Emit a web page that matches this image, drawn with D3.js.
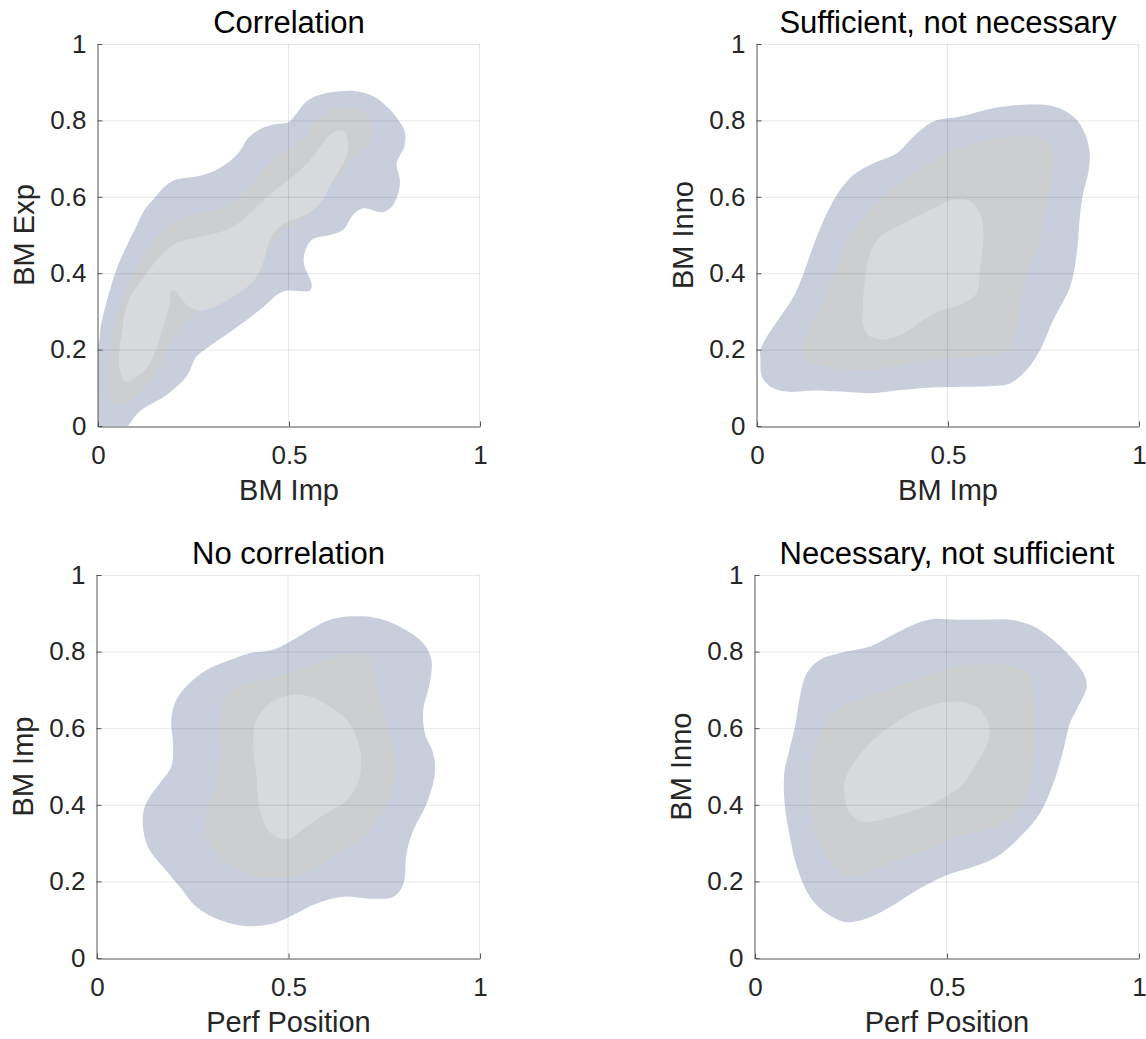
<!DOCTYPE html>
<html>
<head>
<meta charset="utf-8">
<script src="https://cdn.jsdelivr.net/npm/d3@7"></script>
<style>
  body { margin: 0; background: #fff; }
  svg { display: block; font-family: "Liberation Sans", Arial, Helvetica, sans-serif; }
</style>
</head>
<body>
<div id="chart"></div>
<script>
// panel texts
const panelTitles = ["Correlation", "Sufficient, not necessary", "No correlation", "Necessary, not sufficient"];
const xLabels = ["BM Imp", "BM Imp", "Perf Position", "Perf Position"];
const yLabels = ["BM Exp", "BM Inno", "BM Imp", "BM Inno"];
const xTicks = [0, 0.5, 1];
const yTicks = [0, 0.2, 0.4, 0.6, 0.8, 1];

// contour outlines, [x, y] in data units
const corrOuter = [[0.048,-0.03],[0.109,0.038],[0.179,0.081],[0.231,0.129],[0.258,0.182],[0.284,0.203],[0.354,0.252],[0.424,0.304],[0.485,0.352],[0.555,0.355],[0.559,0.374],[0.541,0.417],[0.539,0.444],[0.559,0.487],[0.607,0.500],[0.642,0.514],[0.668,0.553],[0.694,0.570],[0.747,0.560],[0.773,0.579],[0.788,0.618],[0.790,0.645],[0.782,0.688],[0.802,0.732],[0.803,0.771],[0.786,0.802],[0.755,0.837],[0.721,0.863],[0.677,0.876],[0.633,0.876],[0.581,0.867],[0.546,0.850],[0.520,0.819],[0.498,0.795],[0.459,0.789],[0.424,0.777],[0.393,0.754],[0.371,0.719],[0.345,0.693],[0.301,0.666],[0.258,0.653],[0.205,0.645],[0.175,0.627],[0.148,0.597],[0.122,0.566],[0.096,0.514],[0.070,0.461],[0.048,0.409],[0.031,0.356],[0.017,0.304],[0.007,0.260],[0.002,0.217],[-0.01,0.19],[-0.03,-0.03]];
const corrMid = [[0.039,0.059],[0.031,0.121],[0.032,0.173],[0.039,0.243],[0.052,0.304],[0.074,0.365],[0.100,0.417],[0.127,0.461],[0.157,0.500],[0.192,0.531],[0.236,0.550],[0.288,0.562],[0.336,0.575],[0.371,0.601],[0.402,0.631],[0.432,0.671],[0.467,0.706],[0.507,0.728],[0.537,0.749],[0.563,0.789],[0.598,0.819],[0.642,0.835],[0.686,0.830],[0.712,0.806],[0.719,0.767],[0.703,0.732],[0.672,0.706],[0.642,0.671],[0.611,0.631],[0.585,0.592],[0.563,0.562],[0.528,0.535],[0.493,0.518],[0.467,0.492],[0.445,0.452],[0.428,0.409],[0.406,0.383],[0.371,0.361],[0.336,0.343],[0.301,0.326],[0.266,0.304],[0.236,0.278],[0.210,0.247],[0.188,0.208],[0.162,0.155],[0.131,0.112],[0.092,0.072],[0.061,0.058]];
const corrInner = [[0.066,0.121],[0.055,0.164],[0.057,0.208],[0.064,0.252],[0.070,0.295],[0.087,0.343],[0.118,0.387],[0.144,0.422],[0.175,0.457],[0.214,0.483],[0.262,0.494],[0.310,0.505],[0.354,0.522],[0.389,0.548],[0.424,0.582],[0.459,0.614],[0.493,0.640],[0.528,0.669],[0.559,0.701],[0.585,0.736],[0.607,0.762],[0.629,0.774],[0.646,0.769],[0.655,0.741],[0.651,0.706],[0.629,0.666],[0.607,0.627],[0.585,0.588],[0.559,0.562],[0.524,0.544],[0.489,0.531],[0.463,0.509],[0.445,0.474],[0.432,0.426],[0.410,0.383],[0.380,0.356],[0.345,0.334],[0.306,0.313],[0.266,0.302],[0.236,0.314],[0.214,0.339],[0.201,0.355],[0.190,0.352],[0.188,0.321],[0.179,0.286],[0.166,0.243],[0.148,0.190],[0.127,0.151],[0.096,0.125],[0.074,0.116]];

const sufOuter = [[0.009,0.173],[0.013,0.129],[0.035,0.103],[0.078,0.090],[0.148,0.093],[0.218,0.090],[0.305,0.086],[0.375,0.094],[0.453,0.101],[0.532,0.103],[0.619,0.105],[0.663,0.112],[0.706,0.147],[0.741,0.199],[0.776,0.278],[0.820,0.365],[0.837,0.452],[0.846,0.557],[0.854,0.610],[0.867,0.662],[0.871,0.714],[0.858,0.767],[0.828,0.810],[0.776,0.837],[0.697,0.841],[0.619,0.832],[0.532,0.810],[0.462,0.797],[0.410,0.758],[0.366,0.714],[0.305,0.688],[0.253,0.658],[0.218,0.619],[0.183,0.557],[0.153,0.487],[0.122,0.400],[0.096,0.339],[0.061,0.286],[0.026,0.234],[0.009,0.199]];
const sufMid = [[0.118,0.199],[0.122,0.177],[0.166,0.160],[0.235,0.148],[0.305,0.147],[0.375,0.160],[0.445,0.173],[0.514,0.177],[0.602,0.182],[0.654,0.199],[0.680,0.243],[0.689,0.313],[0.702,0.383],[0.737,0.470],[0.758,0.575],[0.776,0.662],[0.778,0.706],[0.763,0.745],[0.715,0.760],[0.645,0.756],[0.575,0.741],[0.506,0.719],[0.453,0.688],[0.392,0.653],[0.340,0.610],[0.288,0.557],[0.235,0.487],[0.209,0.417],[0.183,0.348],[0.148,0.278],[0.122,0.234]];
const sufInner = [[0.279,0.260],[0.296,0.234],[0.331,0.227],[0.384,0.243],[0.436,0.278],[0.488,0.304],[0.540,0.321],[0.575,0.348],[0.584,0.417],[0.593,0.496],[0.584,0.557],[0.558,0.588],[0.514,0.592],[0.453,0.566],[0.384,0.531],[0.323,0.496],[0.296,0.452],[0.283,0.383],[0.277,0.313]];

const noOuter = [[0.120,0.343],[0.133,0.290],[0.172,0.238],[0.216,0.186],[0.260,0.133],[0.321,0.099],[0.390,0.083],[0.460,0.090],[0.512,0.112],[0.573,0.142],[0.643,0.160],[0.713,0.155],[0.774,0.160],[0.800,0.194],[0.808,0.273],[0.826,0.334],[0.861,0.404],[0.882,0.482],[0.878,0.534],[0.856,0.587],[0.852,0.649],[0.869,0.718],[0.873,0.779],[0.852,0.822],[0.791,0.865],[0.730,0.888],[0.669,0.892],[0.608,0.883],[0.556,0.857],[0.512,0.831],[0.460,0.805],[0.399,0.796],[0.347,0.778],[0.286,0.752],[0.242,0.718],[0.207,0.674],[0.194,0.622],[0.199,0.552],[0.194,0.500],[0.164,0.456],[0.138,0.421],[0.122,0.386]];
const noMid = [[0.281,0.343],[0.290,0.308],[0.321,0.264],[0.373,0.229],[0.434,0.210],[0.503,0.212],[0.573,0.238],[0.643,0.282],[0.704,0.325],[0.747,0.386],[0.778,0.456],[0.782,0.517],[0.765,0.587],[0.739,0.674],[0.721,0.761],[0.699,0.787],[0.643,0.792],[0.573,0.770],[0.503,0.744],[0.434,0.726],[0.364,0.709],[0.329,0.674],[0.321,0.604],[0.321,0.517],[0.308,0.447],[0.290,0.395]];
const noInner = [[0.434,0.360],[0.446,0.334],[0.477,0.312],[0.503,0.312],[0.547,0.343],[0.599,0.378],[0.652,0.412],[0.681,0.456],[0.690,0.517],[0.677,0.578],[0.652,0.622],[0.608,0.656],[0.556,0.683],[0.503,0.687],[0.451,0.665],[0.416,0.622],[0.408,0.552],[0.416,0.482],[0.421,0.412]];

const necOuter = [[0.076,0.482],[0.078,0.395],[0.091,0.316],[0.109,0.238],[0.143,0.160],[0.187,0.116],[0.234,0.094],[0.291,0.103],[0.352,0.133],[0.421,0.177],[0.499,0.216],[0.569,0.238],[0.629,0.264],[0.690,0.316],[0.742,0.378],[0.777,0.456],[0.803,0.543],[0.820,0.613],[0.846,0.665],[0.864,0.709],[0.855,0.744],[0.829,0.779],[0.786,0.822],[0.725,0.866],[0.664,0.883],[0.595,0.883],[0.525,0.883],[0.464,0.885],[0.412,0.870],[0.352,0.840],[0.299,0.813],[0.221,0.796],[0.169,0.779],[0.135,0.744],[0.117,0.683],[0.104,0.604],[0.087,0.534]];
const necMid = [[0.143,0.430],[0.156,0.334],[0.187,0.264],[0.230,0.221],[0.273,0.214],[0.326,0.238],[0.395,0.264],[0.464,0.290],[0.525,0.316],[0.621,0.343],[0.681,0.378],[0.716,0.447],[0.729,0.552],[0.729,0.656],[0.716,0.735],[0.673,0.761],[0.603,0.768],[0.534,0.763],[0.464,0.744],[0.395,0.718],[0.326,0.691],[0.256,0.670],[0.213,0.648],[0.178,0.604],[0.152,0.534]];
const necInner = [[0.232,0.430],[0.247,0.378],[0.282,0.356],[0.343,0.365],[0.404,0.382],[0.464,0.404],[0.534,0.447],[0.577,0.508],[0.608,0.569],[0.608,0.613],[0.577,0.656],[0.517,0.670],[0.447,0.656],[0.378,0.622],[0.308,0.569],[0.256,0.508],[0.234,0.465]];

const panelContours = [
  [corrOuter, corrMid, corrInner],
  [sufOuter, sufMid, sufInner],
  [noOuter, noMid, noInner],
  [necOuter, necMid, necInner]
];
const levelColors = ["#c9cedd", "#cdcecf", "#d8d9dc"];

const width = 1146, height = 1039;
const svg = d3.select("#chart").append("svg")
  .attr("width", width)
  .attr("height", height);

// axes boxes in pixels: left, top, size
const boxes = [
  {left: 98, top: 44, w: 382, h: 382},
  {left: 757, top: 44, w: 382, h: 382},
  {left: 97, top: 575, w: 383, h: 383},
  {left: 755, top: 575, w: 384, h: 383}
];

boxes.forEach(function(b, i) {
  const x = d3.scaleLinear().domain([0, 1]).range([b.left, b.left + b.w]);
  const y = d3.scaleLinear().domain([0, 1]).range([b.top + b.h, b.top]);

  svg.append("clipPath").attr("id", "clip" + i)
    .append("rect").attr("x", b.left).attr("y", b.top).attr("width", b.w).attr("height", b.h);

  const area = d3.line()
    .x(function(d) { return x(d[0]); })
    .y(function(d) { return y(d[1]); })
    .curve(d3.curveCatmullRomClosed.alpha(0.5));

  svg.append("g")
    .attr("clip-path", "url(#clip" + i + ")")
    .selectAll("path")
    .data(panelContours[i])
    .join("path")
    .attr("d", area)
    .attr("fill", function(d, j) { return levelColors[j]; });

  // grid over the fills, like matlab
  const grid = svg.append("g")
    .attr("stroke", "#000")
    .attr("stroke-opacity", 0.09)
    .attr("stroke-width", 1);
  grid.selectAll("line.gx")
    .data(xTicks.filter(function(t) { return t > 0; }))
    .join("line")
    .attr("class", "gx")
    .attr("x1", function(d) { return x(d) - 0.5; }).attr("x2", function(d) { return x(d) - 0.5; })
    .attr("y1", y(0)).attr("y2", y(1));
  grid.selectAll("line.gy")
    .data(yTicks.filter(function(t) { return t > 0; }))
    .join("line")
    .attr("class", "gy")
    .attr("y1", function(d) { return y(d) + 0.5; }).attr("y2", function(d) { return y(d) + 0.5; })
    .attr("x1", x(0)).attr("x2", x(1));

  const xAxis = svg.append("g")
    .attr("transform", "translate(0," + (y(0) + 0.5) + ")")
    .call(d3.axisBottom(x).tickValues(xTicks).tickFormat(d3.format("")).tickSizeInner(-5).tickSizeOuter(0).tickPadding(19));
  const yAxis = svg.append("g")
    .attr("transform", "translate(" + (x(0) - 0.5) + ",0)")
    .call(d3.axisLeft(y).tickValues(yTicks).tickFormat(d3.format("")).tickSizeInner(-5).tickSizeOuter(0).tickPadding(11));

  [xAxis, yAxis].forEach(function(ax) {
    ax.select(".domain").attr("stroke", "#555");
    ax.selectAll(".tick line").attr("stroke", "#555");
    ax.selectAll(".tick text")
      .attr("fill", "#262626")
      .attr("font-size", "26px")
      .attr("font-family", null);
  });

  svg.append("text")
    .attr("x", (x(0) + x(1)) / 2)
    .attr("y", b.top - 11)
    .attr("text-anchor", "middle")
    .attr("font-size", "31px")
    .attr("fill", "#000")
    .text(panelTitles[i]);

  svg.append("text")
    .attr("x", (x(0) + x(1)) / 2)
    .attr("y", y(0) + 74)
    .attr("text-anchor", "middle")
    .attr("font-size", "29px")
    .attr("fill", "#262626")
    .text(xLabels[i]);

  svg.append("text")
    .attr("transform", "translate(" + (x(0) - 64) + "," + ((y(0) + y(1)) / 2) + ") rotate(-90)")
    .attr("text-anchor", "middle")
    .attr("font-size", "29px")
    .attr("fill", "#262626")
    .text(yLabels[i]);
});
</script>
</body>
</html>
